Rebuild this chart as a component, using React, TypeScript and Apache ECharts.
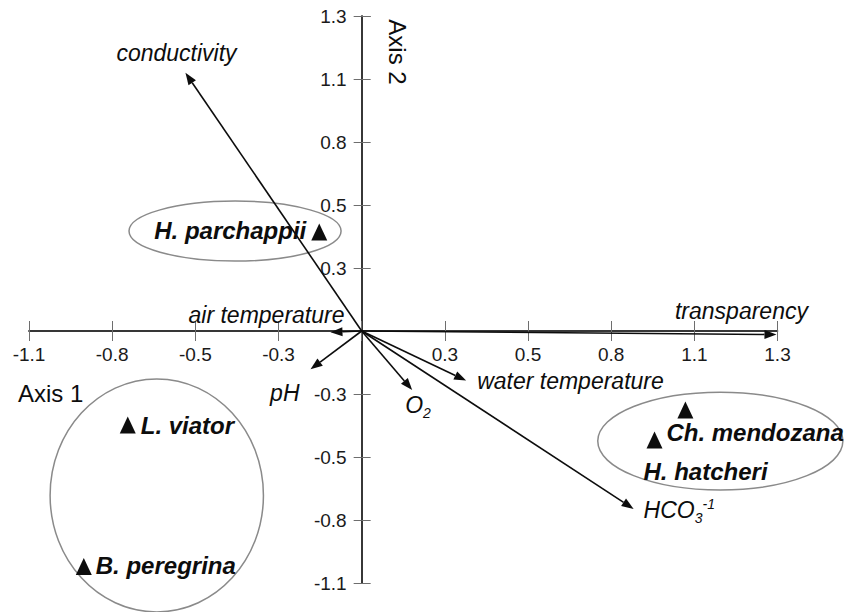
import React, { useEffect, useRef } from 'react';
import * as echarts from 'echarts';

// Axis scale (ticks evenly spaced, labels rounded to one decimal)
const tickMin = -16 / 15;
const tickMax = 4 / 3;
const tickStep = 4 / 15;

// Environmental vectors (arrow tips)
const vectorNames = ['conductivity', 'transparency', 'air temperature', 'pH', 'O2', 'water temperature', 'HCO3-1'];
const vectorX = [-0.565, 1.33, -0.1, -0.164, 0.162, 0.335, 0.872];
const vectorY = [1.093, -0.015, -0.005, -0.162, -0.25, -0.21, -0.753];

// Species scores
const speciesNames = ['H. parchappii', 'Ch. mendozana', 'H. hatcheri', 'L. viator', 'B. peregrina'];
const speciesX = [-0.136, 1.038, 0.939, -0.75, -0.891];
const speciesY = [0.419, -0.334, -0.461, -0.398, -0.997];

// Group ellipses (centre and radii in axis units)
const groupCx = [-0.406, -0.657, 1.15];
const groupCy = [0.423, -0.696, -0.466];
const groupRx = [0.34, 0.342, 0.393];
const groupRy = [0.127, 0.493, 0.207];

const FONT = '"Liberation Sans", Arial, Helvetica, sans-serif';
const INK = '#0d0d0d';

const CHART_W = 851;
const CHART_H = 612;
const GRID = { left: 29, right: 73.5, top: 16, bottom: 29 };
const plotW = CHART_W - GRID.left - GRID.right;
const plotH = CHART_H - GRID.top - GRID.bottom;
const zeroFracX = (0 - tickMin) / (tickMax - tickMin);
const zeroFracY = (tickMax - 0) / (tickMax - tickMin);

const vectorLabelText: Record<string, string> = {
  'O2': '{i|O}{sub|2}',
  'HCO3-1': '{i|HCO}{sub|3}{sup|-1}',
};
const vectorLabelLayout: Record<string, { align: string; offset: number[] }> = {
  'conductivity': { align: 'center', offset: [-9, -20] },
  'transparency': { align: 'center', offset: [-35, -24] },
  'air temperature': { align: 'right', offset: [14, -17] },
  'pH': { align: 'right', offset: [-11, 24] },
  'O2': { align: 'left', offset: [-7, 15] },
  'water temperature': { align: 'left', offset: [11, 0] },
  'HCO3-1': { align: 'left', offset: [10, 1] },
};
const speciesLabelLayout: Record<string, { align: string; offset: number[] }> = {
  'H. parchappii': { align: 'right', offset: [-13, -2] },
  'Ch. mendozana': { align: 'left', offset: [-19, 23] },
  'H. hatcheri': { align: 'left', offset: [-11, 32] },
  'L. viator': { align: 'left', offset: [13, 0] },
  'B. peregrina': { align: 'left', offset: [12, -1] },
};

const tickFormatter = (v: number) => (Math.abs(v) < 1e-6 ? '' : v.toFixed(1));

const axisBase = {
  type: 'value',
  min: tickMin,
  max: tickMax,
  interval: tickStep,
  splitLine: { show: false },
  axisLine: { show: true, onZero: false, lineStyle: { color: '#2a2a2a', width: 1.5 } },
};
const tickStyle = { color: '#6e6e6e', width: 1 };

export default function App() {
  const ref = useRef<HTMLDivElement>(null);
  useEffect(() => {
    const chart = echarts.init(ref.current!, undefined, { renderer: 'svg' });
    const labelStyle = { fontFamily: FONT, fontSize: 19, color: '#1a1a1a' };
    const italic = { fontFamily: FONT, fontStyle: 'italic', color: INK, opacity: 1 };
    const option: any = {
      animation: false,
      backgroundColor: '#ffffff',
      grid: { ...GRID, containLabel: false, outerBoundsMode: 'none' },
      xAxis: [
        {
          ...axisBase,
          position: 'bottom',
          offset: -plotH * (1 - zeroFracY),
          axisTick: { show: true, length: 10, lineStyle: tickStyle },
          axisLabel: { show: true, formatter: tickFormatter, margin: 14, ...labelStyle },
        },
        {
          ...axisBase,
          position: 'top',
          offset: -plotH * zeroFracY,
          axisTick: { show: true, length: 10, lineStyle: tickStyle },
          axisLabel: { show: false },
        },
      ],
      yAxis: [
        {
          ...axisBase,
          position: 'left',
          offset: -plotW * zeroFracX,
          axisTick: { show: true, length: 8, lineStyle: tickStyle },
          axisLabel: { show: true, formatter: tickFormatter, margin: 15, ...labelStyle },
        },
        {
          ...axisBase,
          position: 'right',
          offset: -plotW * (1 - zeroFracX),
          axisTick: { show: true, length: 9, lineStyle: tickStyle },
          axisLabel: { show: false },
        },
      ],
      graphic: [
        {
          type: 'text',
          x: 18,
          y: 393,
          style: { text: 'Axis 1', fontFamily: FONT, fontSize: 24, fill: INK, align: 'left', verticalAlign: 'middle' },
        },
        {
          type: 'text',
          x: 397,
          y: 52,
          rotation: -Math.PI / 2,
          style: { text: 'Axis 2', fontFamily: FONT, fontSize: 24, fill: INK, align: 'center', verticalAlign: 'middle' },
        },
      ],
      series: [
        {
          type: 'custom',
          name: 'groups',
          z: 1,
          silent: true,
          clip: false,
          encode: { x: 0, y: 1 },
          data: groupCx.map((c, i) => [c, groupCy[i], groupRx[i], groupRy[i]]),
          renderItem: (params: any, api: any) => {
            const c = api.coord([api.value(0), api.value(1)]);
            const rx = api.size([api.value(2), 0])[0];
            const ry = api.size([0, api.value(3)])[1];
            return {
              type: 'ellipse',
              shape: { cx: c[0], cy: c[1], rx, ry },
              style: { fill: 'none', stroke: '#8a8a8a', lineWidth: 1.5 },
            };
          },
        },
        {
          type: 'custom',
          name: 'vectors',
          z: 3,
          silent: true,
          clip: false,
          encode: { x: 0, y: 1 },
          data: vectorX.map((x, i) => [x, vectorY[i]]),
          renderItem: (params: any, api: any) => {
            const tip = api.coord([api.value(0), api.value(1)]);
            const o = api.coord([0, 0]);
            const dx = tip[0] - o[0];
            const dy = tip[1] - o[1];
            const len = Math.hypot(dx, dy) || 1;
            const ux = dx / len;
            const uy = dy / len;
            const L = Math.min(12, len * 0.5);
            const W = 4.5;
            const bx = tip[0] - ux * L;
            const by = tip[1] - uy * L;
            return {
              type: 'group',
              children: [
                {
                  type: 'line',
                  shape: { x1: o[0], y1: o[1], x2: bx, y2: by },
                  style: { stroke: INK, lineWidth: 1.6 },
                },
                {
                  type: 'polygon',
                  shape: { points: [[tip[0], tip[1]], [bx - uy * W, by + ux * W], [bx + uy * W, by - ux * W]] },
                  style: { fill: INK },
                },
              ],
            };
          },
        },
        {
          type: 'scatter',
          name: 'vectorLabels',
          z: 4,
          silent: true,
          symbol: 'circle',
          symbolSize: 1,
          itemStyle: { color: 'rgba(255,255,255,0)', opacity: 1 },
          data: vectorNames.map((n, i) => ({
            name: n,
            value: [vectorX[i], vectorY[i]],
            label: {
              show: true,
              position: 'inside',
              formatter: vectorLabelText[n] || `{i|${n}}`,
              align: vectorLabelLayout[n].align,
              verticalAlign: 'middle',
              offset: vectorLabelLayout[n].offset,
              color: INK,
              opacity: 1,
              rich: {
                i: { ...italic, fontSize: 23, lineHeight: 26 },
                sub: { ...italic, fontSize: 14, verticalAlign: 'bottom', lineHeight: 14, padding: [0, 0, -2, 0] },
                sup: { ...italic, fontSize: 14, verticalAlign: 'top', lineHeight: 14 },
              },
            },
          })),
        },
        {
          type: 'scatter',
          name: 'species',
          z: 5,
          silent: true,
          symbol: 'triangle',
          symbolSize: [16, 17],
          itemStyle: { color: INK, opacity: 1 },
          data: speciesNames.map((n, i) => ({
            name: n,
            value: [speciesX[i], speciesY[i]],
            label: {
              show: true,
              position: 'inside',
              formatter: n,
              align: speciesLabelLayout[n].align,
              verticalAlign: 'middle',
              offset: speciesLabelLayout[n].offset,
              fontFamily: FONT,
              fontSize: 24,
              fontStyle: 'italic',
              fontWeight: 'bold',
              color: INK,
              opacity: 1,
            },
          })),
        },
      ],
    };
    chart.setOption(option);
    return () => chart.dispose();
  }, []);
  return (
    <div
      ref={ref}
      style={{ position: 'fixed', left: 0, top: 0, width: CHART_W, height: CHART_H, background: '#ffffff' }}
    />
  );
}
